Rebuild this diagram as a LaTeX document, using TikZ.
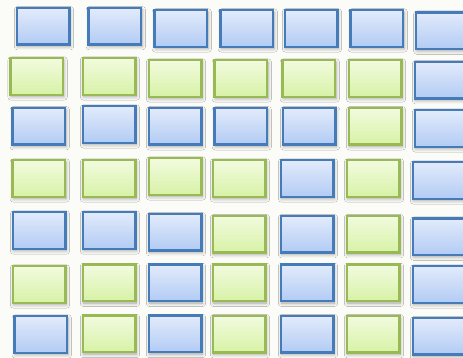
\documentclass[tikz,border=0pt]{standalone}
\usepackage{tikz}
\usetikzlibrary{shadows.blur}
\definecolor{Paper}{HTML}{FBFBF8}
\definecolor{BlueLine}{HTML}{467BBA}
\definecolor{BlueTop}{HTML}{E2EBFB}
\definecolor{BlueBot}{HTML}{B2CBF4}
\definecolor{GreenLine}{HTML}{98B953}
\definecolor{GreenTop}{HTML}{F2FBDF}
\definecolor{GreenBot}{HTML}{D7F2A6}
\tikzset{
 tile/.style={rectangle,line width=1.2pt,minimum width=26.3pt,minimum height=18.3pt,
   inner sep=0pt,outer sep=0pt,
   blur shadow={shadow xshift=0.4pt,shadow yshift=-1pt,shadow blur steps=6,shadow opacity=35}},
 bt/.style={tile,draw=BlueLine,top color=BlueTop,bottom color=BlueBot},
 gt/.style={tile,draw=GreenLine,top color=GreenTop,bottom color=GreenBot}
}

\begin{document}
\begin{tikzpicture}[x=0.5pt,y=-0.5pt]
\fill[Paper] (0,0) rectangle (463,358);
\useasboundingbox (0,0) rectangle (463,358);
\clip (0,0) rectangle (463,358);
% row a
\node[bt] (a1) at (43.2,26.2) {};
\node[bt] (a2) at (115,26.2) {};
\node[bt] (a3) at (181,28.5) {};
\node[bt] (a4) at (247,28.5) {};
\node[bt] (a5) at (311.2,28.5) {};
\node[bt] (a6) at (377,28.5) {};
\node[bt] (a7) at (442.5,30.7) {};
% row b
\node[gt] (b1) at (36.8,76.5) {};
\node[gt] (b2) at (109.2,76.5) {};
\node[gt] (b3) at (175.2,78.5) {};
\node[gt] (b4) at (241,78.5) {};
\node[gt] (b5) at (309,78.5) {};
\node[gt] (b6) at (375.2,78.5) {};
\node[bt] (b7) at (441.2,80.2) {};
% row c
\node[bt] (c1) at (39,126.2) {};
\node[bt] (c2) at (109.2,124.5) {};
\node[bt] (c3) at (175.2,126.3) {};
\node[bt] (c4) at (241,126.3) {};
\node[bt] (c5) at (309.3,126.3) {};
\node[gt] (c6) at (375.2,126.3) {};
\node[bt] (c7) at (441.2,128.5) {};
% row d
\node[gt] (d1) at (39,178.5) {};
\node[gt] (d2) at (109.2,178.5) {};
\node[gt] (d3) at (175.2,176.5) {};
\node[gt] (d4) at (239.2,178.5) {};
\node[bt] (d5) at (307.2,178.5) {};
\node[gt] (d6) at (373.2,178.5) {};
\node[bt] (d7) at (439.2,180.5) {};
% row e
\node[bt] (e1) at (39.2,230.5) {};
\node[bt] (e2) at (109.2,230.5) {};
\node[bt] (e3) at (175.2,232.2) {};
\node[gt] (e4) at (239.2,234.2) {};
\node[bt] (e5) at (307.2,234.2) {};
\node[gt] (e6) at (373.2,234.2) {};
\node[bt] (e7) at (439.2,236.7) {};
% row f
\node[gt] (f1) at (39.2,284.5) {};
\node[gt] (f2) at (109.2,282.8) {};
\node[bt] (f3) at (175.2,282.8) {};
\node[gt] (f4) at (239.2,282.8) {};
\node[bt] (f5) at (307.2,282.8) {};
\node[gt] (f6) at (373.2,282.8) {};
\node[bt] (f7) at (439.2,284.5) {};
% row g
\node[bt] (g1) at (41,334.5) {};
\node[gt] (g2) at (109.2,334) {};
\node[bt] (g3) at (175.2,334) {};
\node[gt] (g4) at (239.2,334.2) {};
\node[bt] (g5) at (307.2,334.2) {};
\node[gt] (g6) at (373.2,334.2) {};
\node[bt] (g7) at (439.2,336.3) {};
\end{tikzpicture}
\end{document}
